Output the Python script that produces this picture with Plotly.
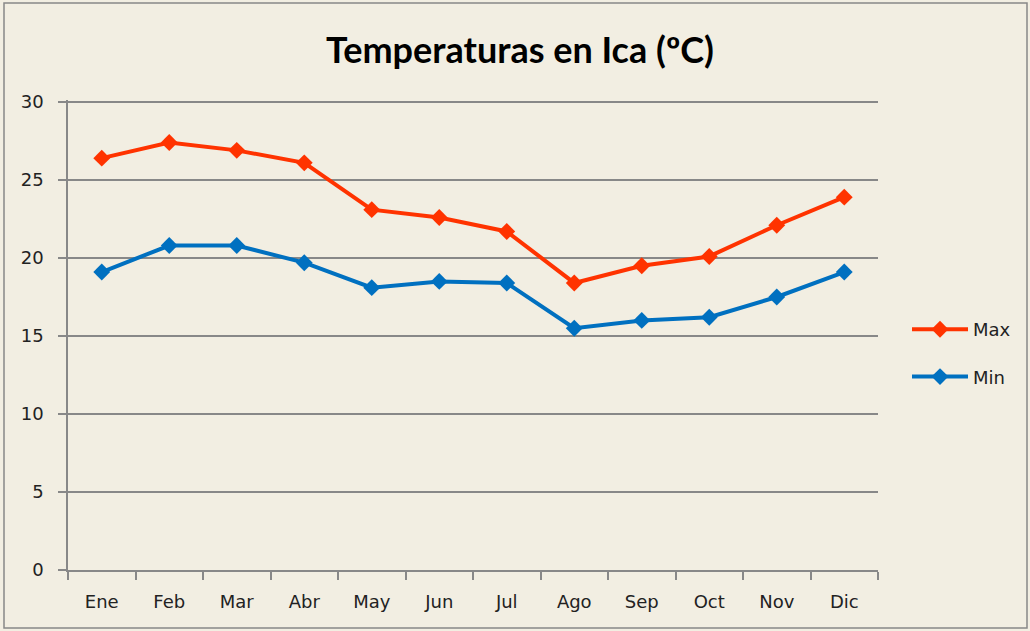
import plotly.graph_objects as go

months = ["Ene", "Feb", "Mar", "Abr", "May", "Jun", "Jul", "Ago", "Sep", "Oct", "Nov", "Dic"]
t_max = [26.4, 27.4, 26.9, 26.1, 23.1, 22.6, 21.7, 18.4, 19.5, 20.1, 22.1, 23.9]
t_min = [19.1, 20.8, 20.8, 19.7, 18.1, 18.5, 18.4, 15.5, 16.0, 16.2, 17.5, 19.1]
y_ticks = [0, 5, 10, 15, 20, 25, 30]

W, H = 1030, 631
L, R, T, B = 68, 152, 100, 61
pw, ph = W - L - R, H - T - B
y_top = 30 + 2 / 15.6

def px(x):
    return (x - L) / pw

def py(y):
    return (H - B - y) / ph

fig = go.Figure()
fig.add_trace(go.Scatter(x=months, y=t_max, name="Max", mode="lines+markers", legendgroup="a",
                         line=dict(color="#FF3300", width=4),
                         marker=dict(symbol="diamond", size=13, color="#FF3300")))
fig.add_trace(go.Scatter(x=months, y=t_min, name="Min", mode="lines+markers", legendgroup="b",
                         line=dict(color="#0070C0", width=4),
                         marker=dict(symbol="diamond", size=13, color="#0070C0")))

fig.update_layout(
    width=W, height=H,
    margin=dict(l=L, r=R, t=T, b=B, pad=0),
    paper_bgcolor="#F2EEE2", plot_bgcolor="#F2EEE2",
    title=dict(text="<b>Temperaturas en Ica (ºC)</b>", x=520 / W, xanchor="center",
               y=1 - 50 / H, yanchor="middle",
               font=dict(family="Lato, Open Sans, sans-serif", size=36, color="#000000")),
    font=dict(family="DejaVu Sans, Verdana, sans-serif", size=18, color="#222222"),
    showlegend=True,
    legend=dict(x=px(907), y=py(353), xanchor="left", yanchor="middle",
                bgcolor="rgba(0,0,0,0)", font=dict(size=18, family="DejaVu Sans, sans-serif"),
                itemwidth=56, traceorder="grouped", tracegroupgap=21),
    shapes=[dict(type="rect", xref="paper", yref="paper",
                 x0=px(4), x1=px(1027), y0=py(628), y1=py(3),
                 line=dict(color="#888888", width=1.5), fillcolor="rgba(0,0,0,0)", layer="below")],
)

fig.update_xaxes(type="category", tickson="boundaries", ticks="outside", ticklen=8,
                 tickcolor="#888888", tickwidth=1.5, showline=True, linecolor="#888888", linewidth=1.5,
                 showgrid=False, range=[-0.5, 11.5], ticklabelstandoff=15,
                 tickfont=dict(size=18, color="#222222"))
fig.update_yaxes(range=[0, y_top], tickvals=y_ticks, ticks="outside", ticklen=8,
                 tickcolor="#888888", tickwidth=1.5, showline=True, linecolor="#888888", linewidth=1.5,
                 showgrid=True, gridcolor="#888888", gridwidth=1.5, zeroline=False,
                 ticklabelstandoff=11, tickfont=dict(size=18, color="#222222"))

fig.write_html("out.html", config={"displayModeBar": False},
               post_script="document.body.style.margin='0';")
